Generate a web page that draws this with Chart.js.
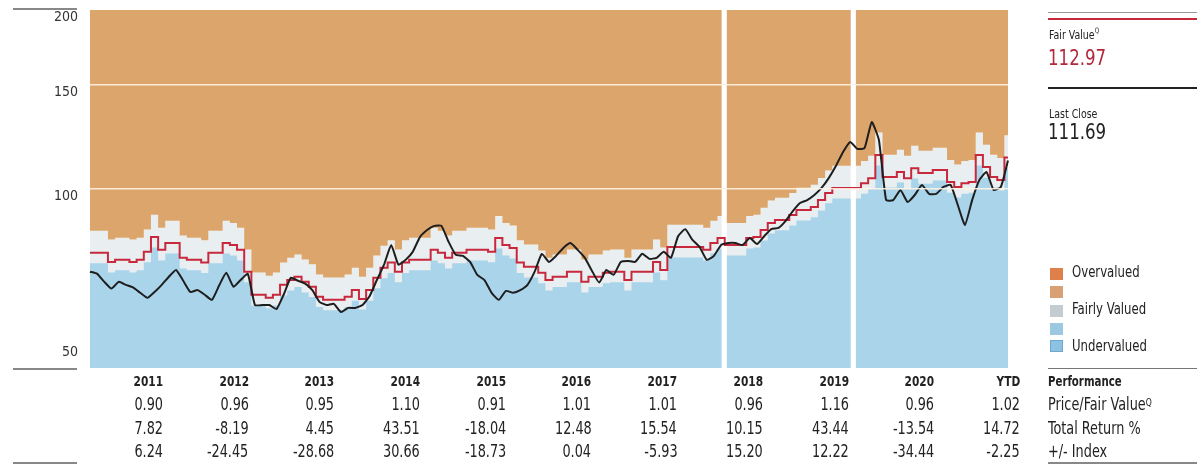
<!DOCTYPE html>
<html><head><meta charset="utf-8">
<script src="https://cdn.jsdelivr.net/npm/chart.js@4.4.1/dist/chart.umd.min.js"></script>
<style>
html,body{margin:0;padding:0;background:#fff;}
body{width:1203px;height:466px;position:relative;overflow:hidden;font-family:"Liberation Sans Narrow","DejaVu Sans Condensed","DejaVu Sans",sans-serif;font-stretch:condensed;color:#222;}
#c{position:absolute;left:0;top:0;}
.hl{position:absolute;height:0;}
.t{position:absolute;white-space:nowrap;}
.col{position:absolute;width:80px;text-align:right;}
.yr{font-weight:bold;font-size:14px;line-height:16px;}
.num{font-size:17px;line-height:20px;}
sup{font-size:60%;vertical-align:top;position:relative;top:-1px;}
.sq{position:absolute;width:13px;height:12px;}
</style></head>
<body>
<canvas id="c" width="1203" height="466"></canvas>
<div id="overlay"></div>
<script>
// ---- data ----
const startYear = 2011;
const monthCount = 129; // Jan 2011 .. Sep 2021
const yTicks = [50, 100, 150, 200];
const scanBreaks = [88, 106]; // month indices after which the printed chart has a white seam

const price = [72.6,72.0,69.8,68.0,69.8,69.0,68.3,66.9,65.6,67.1,69.0,71.2,
73.1,70.1,67.1,67.6,66.4,65.1,68.8,72.3,68.5,70.3,72.0,63.8,
63.8,63.8,62.8,66.4,70.9,70.1,69.3,67.6,64.6,63.8,64.1,62.1,
63.1,63.1,63.8,66.1,70.3,74.6,80.5,74.6,76.0,78.4,83.0,85.3,
86.7,86.7,81.5,77.5,77.2,75.4,71.7,70.3,66.9,65.1,67.4,66.9,
67.6,69.0,72.6,77.8,75.4,77.2,79.6,81.1,79.0,76.6,72.8,69.6,
73.1,71.7,75.4,75.7,75.4,77.8,76.3,76.6,78.4,76.6,83.3,85.6,
82.1,79.9,76.0,77.2,80.5,81.1,81.1,80.5,82.7,80.8,83.3,85.6,
86.0,88.4,91.8,94.7,95.8,97.7,100.4,104.3,109.3,115.4,120.0,116.8,
117.2,129.6,120.9,95.8,95.8,99.6,95.1,97.7,101.6,98.1,98.1,100.8,
101.6,94.0,87.0,95.8,103.5,106.8,99.6,100.8,111.69];

const fairValue = [78.1,78.1,78.1,75.4,76.0,76.0,75.4,76.0,78.4,83.0,79.0,81.1,
81.1,76.6,76.0,76.0,75.2,78.1,78.1,81.1,80.5,79.0,72.6,66.4,
66.4,65.6,66.4,69.0,70.3,71.2,69.8,68.5,65.9,65.1,65.1,65.1,
65.9,67.6,65.3,67.6,70.9,73.7,75.2,72.6,75.2,76.0,76.0,76.0,
79.0,78.1,76.6,78.1,78.1,79.0,79.0,79.0,78.4,82.7,80.5,79.6,
75.2,74.0,74.0,72.3,70.3,71.2,71.2,72.6,72.6,69.8,71.2,71.2,
72.3,72.6,72.6,70.3,72.6,72.6,72.6,75.4,73.1,79.9,79.9,79.9,
79.9,79.9,79.0,81.1,82.7,80.5,80.5,80.5,82.7,83.0,85.3,87.7,
88.7,88.7,90.4,92.2,92.2,93.3,95.8,98.5,100.4,100.4,100.4,100.4,
102.3,104.3,114.1,104.8,104.8,106.8,104.3,108.4,106.4,106.4,107.6,107.6,
102.7,100.8,102.3,102.7,114.1,108.9,104.8,103.5,112.97];

// upper edge of the "fairly valued" band (orange above)
const overvaluedEdge = [85.1,85.1,85.1,82.2,82.8,82.8,82.2,82.8,85.5,90.5,86.1,88.4,
88.4,83.5,82.8,82.8,82.0,85.1,85.1,88.4,87.7,86.1,79.1,72.4,
72.4,71.5,72.4,75.2,76.6,77.6,76.1,74.7,71.8,71.0,71.0,71.0,
71.8,73.7,71.2,73.7,77.3,80.3,82.0,79.1,82.0,82.8,82.8,82.8,
86.1,85.1,83.5,85.1,85.1,86.1,86.1,86.1,85.5,90.1,87.7,86.8,
82.0,80.7,80.7,78.8,76.6,77.6,77.6,79.1,79.1,76.1,77.6,77.6,
78.8,79.1,79.1,76.6,79.1,79.1,79.1,82.2,79.7,87.1,87.1,87.1,
87.1,87.1,86.1,88.4,90.1,87.7,87.7,87.7,90.1,90.5,93.0,95.6,
96.7,96.7,98.5,100.5,100.5,101.7,104.4,107.4,109.4,109.4,109.4,109.4,
111.5,113.7,124.4,114.2,114.2,116.4,113.7,118.2,116.0,116.0,117.3,117.3,
111.9,109.9,111.5,111.9,124.4,118.7,114.2,112.8,123.1];

// lower edge of the "fairly valued" band (blue below)
const undervaluedEdge = [75.0,75.0,75.0,72.4,73.0,73.0,72.4,73.0,75.3,79.7,75.8,77.9,
77.9,73.5,73.0,73.0,72.2,75.0,75.0,77.9,77.3,75.8,69.7,63.7,
63.7,63.0,63.7,66.2,67.5,68.4,67.0,65.8,63.3,62.5,62.5,62.5,
63.3,64.9,62.7,64.9,68.1,70.8,72.2,69.7,72.2,73.0,73.0,73.0,
75.8,75.0,73.5,75.0,75.0,75.8,75.8,75.8,75.3,79.4,77.3,76.4,
72.2,71.0,71.0,69.4,67.5,68.4,68.4,69.7,69.7,67.0,68.4,68.4,
69.4,69.7,69.7,67.5,69.7,69.7,69.7,72.4,70.2,76.7,76.7,76.7,
76.7,76.7,75.8,77.9,79.4,77.3,77.3,77.3,79.4,79.7,81.9,84.2,
85.2,85.2,86.8,88.5,88.5,89.6,92.0,94.6,96.4,96.4,96.4,96.4,
98.2,100.1,109.5,100.6,100.6,102.5,100.1,104.1,102.1,102.1,103.3,103.3,
98.6,96.8,98.2,98.6,109.5,104.5,100.6,99.4,108.5];

const years = ['2011','2012','2013','2014','2015','2016','2017','2018','2019','2020','YTD'];
const priceFairValue = ['0.90','0.96','0.95','1.10','0.91','1.01','1.01','0.96','1.16','0.96','1.02'];
const totalReturn = ['7.82','-8.19','4.45','43.51','-18.04','12.48','15.54','10.15','43.44','-13.54','14.72'];
const plusMinusIndex = ['6.24','-24.45','-28.68','30.66','-18.73','0.04','-5.93','15.20','12.22','-34.44','-2.25'];
const rowLabels = ['Price/Fair Value<sup>Q</sup>','Total Return %','+/- Index'];
const fairValueLabel = '112.97';
const lastCloseLabel = '111.69';

const months = [];
for (let i = 0; i < monthCount; i++) {
  const y = startYear + Math.floor(i / 12), m = (i % 12) + 1;
  months.push(y + '-' + String(m).padStart(2, '0'));
}

const FONT = '"Liberation Sans Narrow","DejaVu Sans Condensed","DejaVu Sans",sans-serif';
const ORANGE = '#dba56c', BLUE = '#a9d4ea', LIGHT = '#e9eff1';

const seamPlugin = {
  id: 'seams',
  beforeDatasetDraw(chart, args) {
    if (args.index !== 1) return;
    const {ctx, chartArea, scales} = chart;
    ctx.save();
    ctx.fillStyle = '#ffffff';
    scanBreaks.forEach(i => {
      const x1 = scales.x.getPixelForValue(i) + 0.5;
      const x2 = scales.x.getPixelForValue(i + 1) - 1.5;
      ctx.fillRect(x1, chartArea.top, x2 - x1, chartArea.bottom - chartArea.top);
    });
    ctx.restore();
  }
};

new Chart(document.getElementById('c'), {
  type: 'line',
  data: {
    labels: months,
    datasets: [
      {label:'Price', data: price, borderColor:'#1e1e1e', borderWidth:2, pointRadius:0, tension:0.15, fill:false},
      {label:'Fair Value', data: fairValue, borderColor:'#c8283c', borderWidth:2, pointRadius:0, stepped:'middle', fill:false},
      {label:'Undervalued', data: undervaluedEdge, borderColor:'rgba(0,0,0,0)', borderWidth:0, pointRadius:0, stepped:'middle', fill:'start', backgroundColor: BLUE},
      {label:'Overvalued', data: overvaluedEdge, borderColor:'rgba(0,0,0,0)', borderWidth:0, pointRadius:0, stepped:'middle', fill:'end', backgroundColor: ORANGE},
      {label:'Fairly Valued', data: overvaluedEdge, borderColor:'rgba(0,0,0,0)', borderWidth:0, pointRadius:0, stepped:'middle', fill:'start', backgroundColor: LIGHT}
    ]
  },
  plugins: [seamPlugin],
  options: {
    responsive: false,
    animation: false,
    events: [],
    layout: { autoPadding: false, padding: {left: 0, top: 10, right: 195, bottom: 98} },
    plugins: { legend: {display:false}, tooltip: {enabled:false} },
    scales: {
      x: { display: false },
      y: {
        type: 'logarithmic', min: 50, max: 200,
        afterBuildTicks: s => { s.ticks = yTicks.map(v => ({value: v})); },
        afterFit: s => { s.width = 90; s.paddingTop = 0; s.paddingBottom = 0; },
        border: {display:false},
        grid: {
          z: 1, drawTicks: false, lineWidth: 1.5,
          color: c => (c.tick && (c.tick.value === 100 || c.tick.value === 150)) ? 'rgba(255,244,228,0.9)' : 'rgba(0,0,0,0)'
        },
        ticks: {
          padding: 12, color: '#333',
          font: {family: FONT, size: 14, lineHeight: 1.1},
          callback: v => v === 50 ? ['50', '', ''] : ['', String(v)]
        }
      }
    }
  }
});

// ---- overlay texts / legend / table ----
const ov = document.getElementById('overlay');
function add(html){ ov.insertAdjacentHTML('beforeend', html); }
function hline(x1, x2, y, w, c){ add(`<div class="hl" style="left:${x1}px;top:${y}px;width:${x2-x1}px;border-top:${w}px solid ${c}"></div>`); }
// horizontally condensed text block; origin decides which edge stays fixed
function sx(html, origin){ return `<span style="display:inline-block;transform:scaleX(0.84);transform-origin:${origin} center;">${html}</span>`; }

// left decorations
hline(13, 77, 8, 2, '#888');
hline(13, 77, 368, 2, '#888');
hline(13, 77, 462, 2, '#888');

// right panel
hline(1048, 1197, 12, 1, '#999');
hline(1048, 1197, 18, 2, '#c8283c');
add(`<div class="t" style="left:1049px;top:27px;font-size:12.5px;">${sx('Fair Value<sup>Q</sup>','left')}</div>`);
add(`<div class="t" style="left:1048px;top:45px;font-size:22px;color:#b3283a;">${sx(fairValueLabel,'left')}</div>`);
hline(1048, 1197, 87, 2, '#222');
add(`<div class="t" style="left:1049px;top:106px;font-size:12.5px;">${sx('Last Close','left')}</div>`);
add(`<div class="t" style="left:1048px;top:119px;font-size:22px;">${sx(lastCloseLabel,'left')}</div>`);

// legend
add(`<div class="sq" style="left:1050px;top:268px;background:#df7f4a"></div>`);
add(`<div class="sq" style="left:1050px;top:286px;background:#d9a173"></div>`);
add(`<div class="sq" style="left:1050px;top:305px;background:#c3ccd1"></div>`);
add(`<div class="sq" style="left:1050px;top:323px;background:#9cc8e2"></div>`);
add(`<div class="sq" style="left:1050px;top:340px;background:#8fc2e0;box-sizing:border-box;border:1px solid #6aa9d0"></div>`);
add(`<div class="t" style="left:1072px;top:263px;font-size:15.5px;">${sx('Overvalued','left')}</div>`);
add(`<div class="t" style="left:1072px;top:300px;font-size:15.5px;">${sx('Fairly Valued','left')}</div>`);
add(`<div class="t" style="left:1072px;top:337px;font-size:15.5px;">${sx('Undervalued','left')}</div>`);

// table
hline(1048, 1197, 368, 1, '#777');
hline(1048, 1197, 462, 2, '#888');
years.forEach((yr, i) => {
  const right = 163 + i * 85.7;
  const left = right - 80;
  add(`<div class="col yr" style="left:${left}px;top:373px;">${sx(yr,'right')}</div>`);
  add(`<div class="col num" style="left:${left}px;top:394px;">${sx(priceFairValue[i],'right')}</div>`);
  add(`<div class="col num" style="left:${left}px;top:418px;">${sx(totalReturn[i],'right')}</div>`);
  add(`<div class="col num" style="left:${left}px;top:441px;">${sx(plusMinusIndex[i],'right')}</div>`);
});
add(`<div class="t" style="left:1048px;top:373px;font-size:13.5px;font-weight:bold;">${sx('Performance','left')}</div>`);
rowLabels.forEach((lbl, r) => {
  add(`<div class="t num" style="left:1048px;top:${[394,418,441][r]}px;">${sx(lbl,'left')}</div>`);
});
</script>
</body></html>
